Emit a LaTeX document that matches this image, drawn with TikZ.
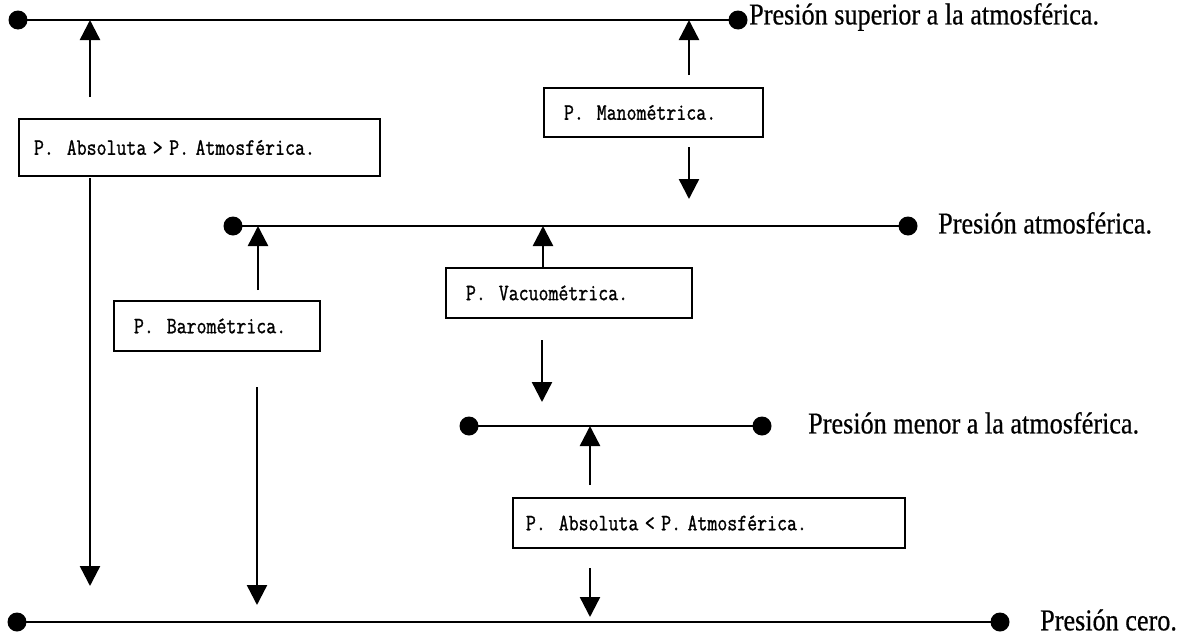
\documentclass[tikz,border=0pt]{standalone}
\usepackage{fontspec}
\setmainfont{Liberation Serif}
\newfontfamily\lblfont[FakeBold=0.6]{Liberation Serif}
\newfontfamily\boxfont[FakeBold=1.2]{Latin Modern Mono}
\usetikzlibrary{arrows.meta}
\newcommand{\tallser}[1]{\scalebox{0.97}[1.12]{#1}}
\newcommand{\boxtxt}[1]{\scalebox{0.92}[1.12]{#1}}
\begin{document}
\begin{tikzpicture}[x=1pt,y=-1pt,
  hline/.style={line width=2.4pt},
  dotend/.style={circle,fill=black,inner sep=0pt,minimum size=19pt},
  arr/.style={line width=2.4pt,-{Triangle[width=20pt,length=20pt]}},
  pbox/.style={draw,line width=2pt,anchor=north west,align=left,inner ysep=0pt,
    font=\boxfont\fontsize{21}{24}\selectfont},
  lbl/.style={anchor=west,inner sep=0pt,font=\lblfont\fontsize{27}{30}\selectfont}]
\useasboundingbox (0,0) rectangle (1187,640);

% pressure levels
\node[dotend] (l1a) at (18,20) {};
\node[dotend] (l1b) at (738,20) {};
\draw[hline] (l1a.center) -- (l1b.center);
\node[lbl] (t1) at (749,17) {\tallser{Presión superior a la atmosférica.}};

\node[dotend] (l2a) at (233,226) {};
\node[dotend] (l2b) at (908,226) {};
\draw[hline] (l2a.center) -- (l2b.center);
\node[lbl] (t2) at (938,223) {\tallser{Presión atmosférica.}};

\node[dotend] (l3a) at (469,426) {};
\node[dotend] (l3b) at (762,426) {};
\draw[hline] (l3a.center) -- (l3b.center);
\node[lbl] (t3) at (808,423) {\tallser{Presión menor a la atmosférica.}};

\node[dotend] (l4a) at (17,622) {};
\node[dotend] (l4b) at (1000,622) {};
\draw[hline] (l4a.center) -- (l4b.center);
\node[lbl] (t4) at (1040,620) {\tallser{Presión cero.}};

% boxes
\node[pbox,inner xsep=15pt,text width=331pt,minimum height=57pt] (b1) at (18,118)
  {\boxtxt{P.\ \ Absoluta > P.\ Atmosférica.}};
\node[pbox,inner xsep=20pt,text width=179pt,minimum height=49pt] (bman) at (543,87)
  {\boxtxt{P.\ \ Manométrica.}};
\node[pbox,inner xsep=20pt,text width=166pt,minimum height=50pt] (bbar) at (113,300)
  {\boxtxt{P.\ \ Barométrica.}};
\node[pbox,inner xsep=20pt,text width=206pt,minimum height=50pt] (bvac) at (445,267)
  {\boxtxt{P.\ \ Vacuométrica.}};
\node[pbox,inner xsep=13pt,text width=366pt,minimum height=50pt] (babs) at (512,497)
  {\boxtxt{P.\ \ Absoluta < P.\ Atmosférica.}};

% arrow end points
\coordinate (a1u) at (90,97);
\coordinate (a1d) at (90,178);
\coordinate (a1e) at (90,586);
\coordinate (amu) at (689,75);
\coordinate (amd) at (689,147);
\coordinate (ame) at (689,199);
\coordinate (abu) at (258,290);
\coordinate (abd) at (257,387);
\coordinate (abe) at (257,605);
\coordinate (avu) at (543,267);
\coordinate (avd) at (542,340);
\coordinate (ave) at (542,402);
\coordinate (aau) at (590,485);
\coordinate (aad) at (590,568);
\coordinate (aae) at (590,617);

% arrows
\draw[arr] (a1u) -- (a1u |- l1a);
\draw[arr] (a1d) -- (a1e);
\draw[arr] (amu) -- (amu |- l1a);
\draw[arr] (amd) -- (ame);
\draw[arr] (abu) -- (abu |- l2a);
\draw[arr] (abd) -- (abe);
\draw[arr] (avu) -- (avu |- l2a);
\draw[arr] (avd) -- (ave);
\draw[arr] (aau) -- (aau |- l3a);
\draw[arr] (aad) -- (aae);
\end{tikzpicture}
\end{document}
